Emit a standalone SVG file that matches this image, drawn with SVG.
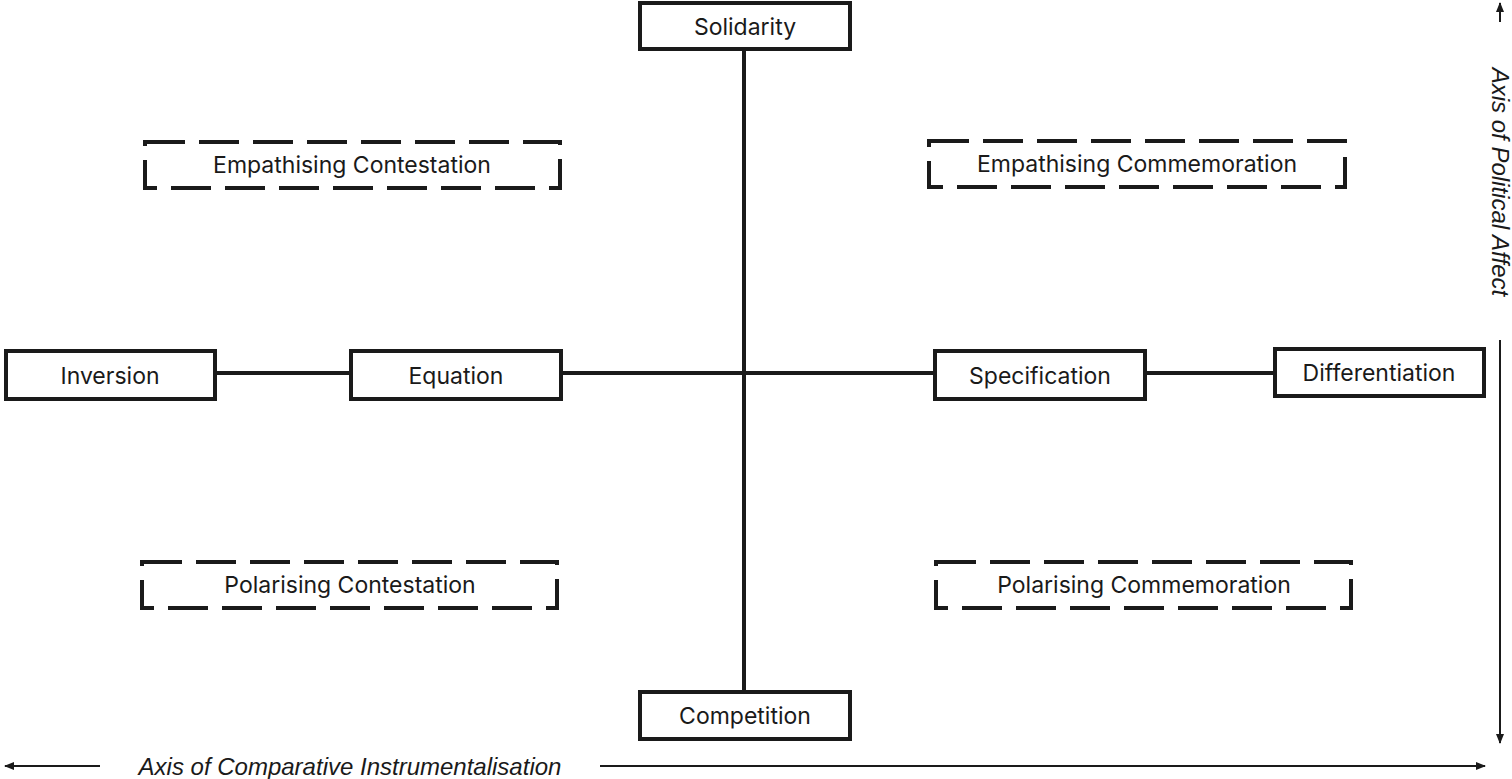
<svg xmlns="http://www.w3.org/2000/svg" width="1512" height="779" viewBox="0 0 1512 779">
<style>
.n{fill:#fff;stroke:#1a1a1a;stroke-width:4}
.d{fill:none;stroke:#1a1a1a;stroke-width:4;stroke-dasharray:40 14}
.t{font-family:Inter,"Liberation Sans",sans-serif;font-size:23px;fill:#1a1a1a;text-anchor:middle;dominant-baseline:central}
.l{stroke:#1a1a1a;stroke-width:4;fill:none}
.a{stroke:#1a1a1a;stroke-width:2;fill:none}
.i{font-family:"Liberation Sans",sans-serif;font-style:italic;font-size:24px;fill:#1a1a1a;text-anchor:middle;dominant-baseline:central}
</style>
<defs><marker id="ar" markerWidth="10" markerHeight="8" refX="9" refY="4" orient="auto-start-reverse" markerUnits="userSpaceOnUse"><path d="M0,0L10,4L0,8Z" fill="#1a1a1a"/></marker></defs>
<g id="connectors">
<path class="l" d="M744,49V692M215,373H351M561,373H935M1145,373H1275"/>
<path class="a" d="M5,766H100" marker-start="url(#ar)"/>
<path class="a" d="M600,766H1485" marker-end="url(#ar)"/>
<path class="a" d="M1500,22V3" marker-end="url(#ar)"/>
<path class="a" d="M1500,340V743" marker-end="url(#ar)"/>
</g>
<g id="solidarity"><rect class="n" x="640" y="3" width="210" height="46"/><text class="t" x="745" y="27">Solidarity</text></g>
<g id="emp-cont"><rect class="d" x="145" y="142" width="415" height="46"/><text class="t" x="352" y="165">Empathising Contestation</text></g>
<g id="emp-comm"><rect class="d" x="929" y="141" width="416" height="46"/><text class="t" x="1137" y="164">Empathising Commemoration</text></g>
<g id="inversion"><rect class="n" x="6" y="351" width="209" height="48"/><text class="t" x="110" y="376">Inversion</text></g>
<g id="equation"><rect class="n" x="351" y="351" width="210" height="48"/><text class="t" x="456" y="376">Equation</text></g>
<g id="specification"><rect class="n" x="935" y="351" width="210" height="48"/><text class="t" x="1040" y="376">Specification</text></g>
<g id="differentiation"><rect class="n" x="1275" y="349" width="209" height="47"/><text class="t" x="1379" y="373">Differentiation</text></g>
<g id="pol-cont"><rect class="d" x="142" y="562" width="415" height="46"/><text class="t" x="350" y="585">Polarising Contestation</text></g>
<g id="pol-comm"><rect class="d" x="936" y="562" width="415" height="46"/><text class="t" x="1144" y="585">Polarising Commemoration</text></g>
<g id="competition"><rect class="n" x="640" y="692" width="210" height="47"/><text class="t" x="745" y="716">Competition</text></g>
<text class="i" x="350" y="766">Axis of Comparative Instrumentalisation</text>
<text class="i" transform="translate(1500,182) rotate(90)">Axis of Political Affect</text>
</svg>
